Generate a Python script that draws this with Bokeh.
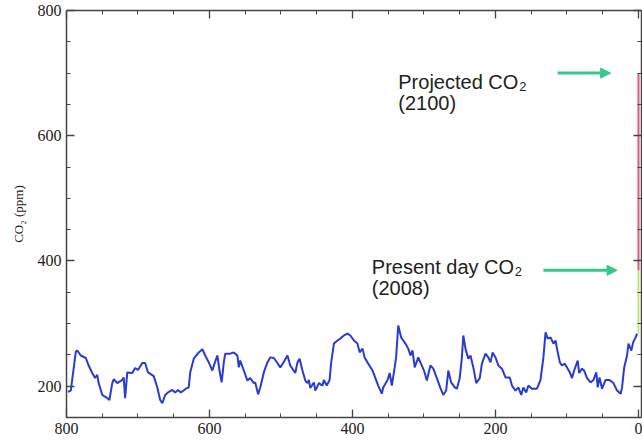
from bokeh.plotting import figure
from bokeh.models import (Range1d, LinearAxis, SingleIntervalTicker, Label,
                          Arrow, NormalHead, ColumnDataSource)
from bokeh.embed import file_html
from bokeh.resources import INLINE

# Age (thousand years before present) and CO2 concentration (ppm)
ages = [798, 794, 787, 785, 780, 773, 769, 764, 760, 757, 755, 750, 743, 740,
        736, 734, 729, 722, 720, 718, 715, 708, 704, 700, 694, 690, 686, 678,
        673, 669, 666, 662, 658, 652, 648, 644, 640, 633, 629, 627, 622, 615,
        610, 606, 601, 596, 593, 589, 586, 583, 580, 578, 571, 566, 561, 559,
        557, 552, 547, 543, 538, 536, 532, 529, 524, 519, 515, 510, 505, 501,
        497, 491, 487, 483, 480, 477, 474, 470, 466, 463, 461, 459, 454, 452,
        447, 442, 440, 436, 432, 430, 426, 421, 417, 412, 407, 403, 398, 393,
        390, 386, 383, 378, 372, 368, 364, 359, 357, 351, 348, 345, 341, 339,
        336, 332, 329, 326, 322, 319, 316, 313, 308, 305, 300, 296, 291, 287,
        282, 277, 273, 269, 266, 262, 257, 254, 250, 247, 245, 242, 238, 235,
        231, 227, 222, 219, 214, 210, 207, 204, 200, 196, 191, 186, 180, 177,
        172, 168, 164, 161, 157, 154, 149, 142, 137, 133, 130, 127, 123, 119,
        116, 114, 110, 107, 103, 100, 96, 93, 90, 85, 83, 79, 76, 72, 67, 63,
        59, 57, 54.5, 51, 46, 41, 35, 30, 25, 23, 20, 16, 14, 10, 7.5, 4, 2]
co2 = [191, 193, 255, 257, 249, 245, 233, 221, 213, 218, 205, 186, 181, 178,
       205, 211, 205, 210, 214, 181, 222, 221, 229, 226, 237, 237, 222, 216,
       198, 178, 173, 186, 190, 194, 190, 194, 190, 196, 198, 222, 244, 254,
       259, 249, 238, 225, 236, 249, 225, 206, 238, 252, 252, 254, 249, 230,
       241, 225, 209, 213, 205, 206, 187, 198, 222, 238, 246, 245, 237, 230,
       237, 249, 233, 226, 221, 238, 244, 225, 209, 205, 210, 197, 206, 193,
       205, 201, 210, 201, 210, 236, 268, 273, 276, 281, 284, 281, 273, 268,
       254, 260, 246, 236, 225, 213, 201, 188, 198, 210, 221, 201, 230, 246,
       297, 278, 273, 268, 260, 249, 257, 230, 246, 238, 225, 209, 233, 228,
       213, 197, 186, 193, 225, 206, 198, 196, 213, 246, 281, 260, 244, 249,
       230, 205, 213, 236, 252, 246, 238, 254, 246, 233, 228, 214, 214, 201,
       193, 198, 186, 198, 190, 201, 196, 196, 210, 246, 286, 276, 278, 268,
       273, 260, 238, 233, 236, 230, 222, 213, 225, 241, 221, 228, 225, 213,
       206, 210, 222, 198, 214, 196, 210, 210, 205, 193, 188, 198, 230, 249,
       268, 257, 270, 278, 284]

present_age = [0]
preindustrial_co2 = [284]
present_co2 = [385]
projected_co2 = [700]

x_tick_values = [800, 600, 400, 200, 0]
x_tick_labels = ["800", "600", "400", "200", "0"]
y_tick_values = [200, 400, 600, 800]

BLUE = "#2a3bd1"
GREEN_ARROW = "#33c98c"
RED = "#d65a72"
YELLOW_GREEN = "#c8e283"
AXIS = "#444444"

p = figure(width=642, height=441,
           x_range=Range1d(800, -4.2), y_range=Range1d(150, 800),
           output_backend="svg", toolbar_location=None,
           min_border_left=66, min_border_right=1,
           min_border_top=10, min_border_bottom=24)
p.outline_line_color = None
p.xgrid.visible = False
p.ygrid.visible = False
p.background_fill_color = "white"
p.border_fill_color = "white"


def style_axis(ax, labels=True, values=()):
    ax.axis_line_color = AXIS
    ax.axis_line_width = 1.5
    ax.major_tick_line_color = AXIS
    ax.major_tick_line_width = 1.3
    ax.minor_tick_line_color = AXIS
    ax.minor_tick_line_width = 1.0
    ax.major_tick_in = 8
    ax.major_tick_out = 0
    ax.minor_tick_in = 4
    ax.minor_tick_out = 0
    ax.major_label_text_font = "Liberation Serif"
    ax.major_label_text_font_size = "16px"
    ax.major_label_text_color = "#222222"
    ax.major_label_standoff = 5
    if not labels:
        ax.major_label_overrides = {v: "" for v in values}
        ax.major_label_standoff = 0


p.xaxis.ticker = SingleIntervalTicker(interval=200, num_minor_ticks=4)
p.yaxis.ticker = SingleIntervalTicker(interval=200, num_minor_ticks=4)
p.xaxis.major_label_overrides = dict(zip(x_tick_values, x_tick_labels))
for ax in p.xaxis + p.yaxis:
    style_axis(ax)

p.yaxis.axis_label = "CO\u2082 (ppm)"
p.yaxis.axis_label_text_font = "Liberation Serif"
p.yaxis.axis_label_text_font_size = "13px"
p.yaxis.axis_label_text_font_style = "normal"
p.yaxis.axis_label_text_color = "#222222"
p.yaxis.axis_label_standoff = 9

top_axis = LinearAxis(ticker=SingleIntervalTicker(interval=200, num_minor_ticks=4))
style_axis(top_axis, labels=False, values=x_tick_values)
p.add_layout(top_axis, "above")
right_axis = LinearAxis(ticker=SingleIntervalTicker(interval=200, num_minor_ticks=4))
style_axis(right_axis, labels=False, values=y_tick_values)
p.add_layout(right_axis, "right")

# CO2 record
src = ColumnDataSource(dict(age=ages, co2=co2))
p.line("age", "co2", source=src, line_color=BLUE, line_width=2)

# Present-day and projected bars
bars = ColumnDataSource(dict(x=present_age, low=preindustrial_co2,
                             mid=present_co2, high=projected_co2))
p.segment(x0="x", y0="low", x1="x", y1="mid", source=bars,
          line_color=YELLOW_GREEN, line_width=2)
p.segment(x0="x", y0="mid", x1="x", y1="high", source=bars,
          line_color=RED, line_width=2)

# Arrows
for xs, xe, yv in [(113, 39, projected_co2[0]), (133, 30, present_co2[0])]:
    p.add_layout(Arrow(end=NormalHead(size=10, fill_color=GREEN_ARROW,
                                      line_color=GREEN_ARROW),
                       x_start=xs, y_start=yv, x_end=xe, y_end=yv,
                       line_color=GREEN_ARROW, line_width=3))

FONT = "Liberation Sans"


def annot(x, y, main, second, width):
    p.add_layout(Label(x=x, y=y, text=main, text_font=FONT,
                       text_font_size="20px", text_color="#222222",
                       text_baseline="alphabetic"))
    p.add_layout(Label(x=x, y=y, x_offset=width + 1, y_offset=-5, text="2",
                       text_font=FONT, text_font_size="13px",
                       text_color="#222222", text_baseline="alphabetic"))
    p.add_layout(Label(x=x, y=y - 34, text=second, text_font=FONT,
                       text_font_size="20px", text_color="#222222",
                       text_baseline="alphabetic"))


annot(336, 686, "Projected CO", "(2100)", 120)
annot(373, 391, "Present day CO", "(2008)", 142)

open("out.html", "w").write(file_html(p, INLINE))
